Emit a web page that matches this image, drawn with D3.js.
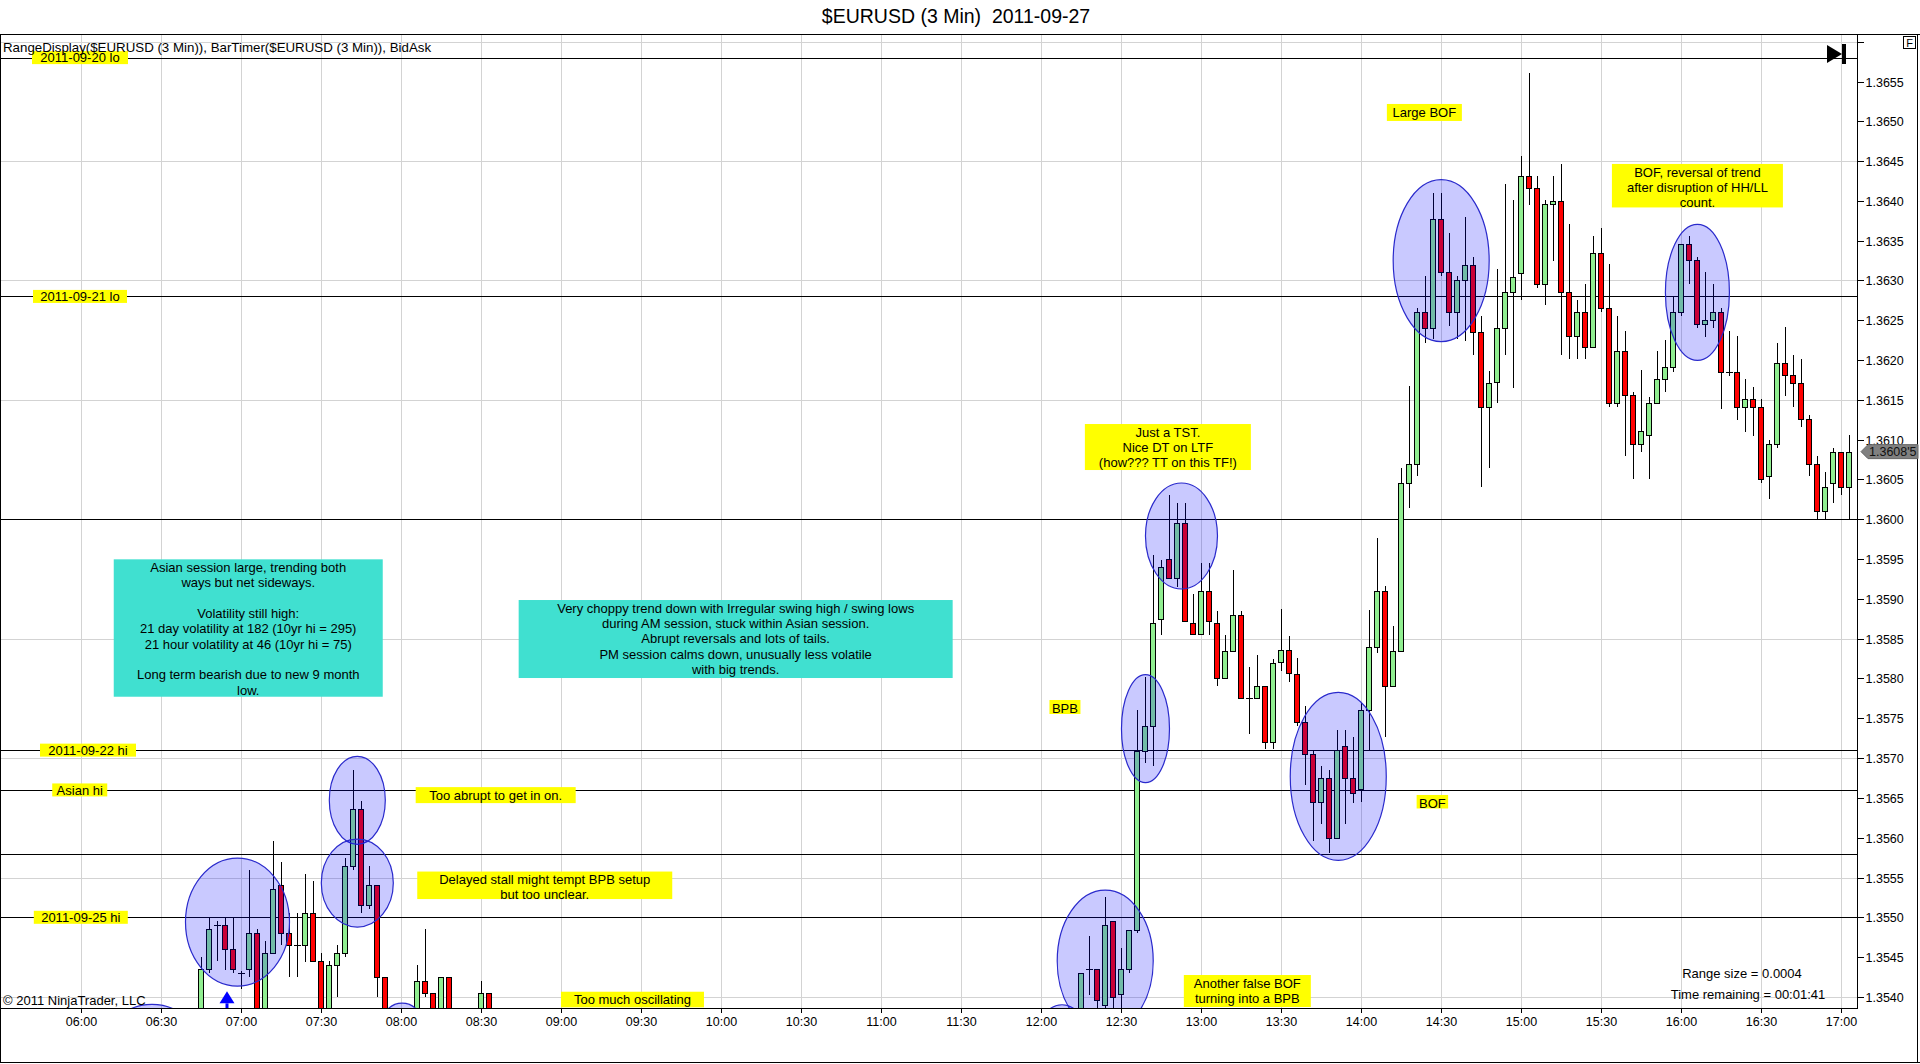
<!DOCTYPE html>
<html><head><meta charset="utf-8">
<script src="https://cdn.jsdelivr.net/npm/d3@7"></script>
<style>
html,body{margin:0;padding:0;background:#fff;overflow:hidden}
svg{display:block;font-family:"Liberation Sans",Arial,sans-serif}
</style></head><body>
<svg id="chart" width="1920" height="1064"></svg>
<script>
// ---------------- DATA ----------------
const titleText = "$EURUSD (3 Min)  2011-09-27";
const headerText = "RangeDisplay($EURUSD (3 Min)), BarTimer($EURUSD (3 Min)), BidAsk";

const barTimes = [
 "06:45","06:48","06:51","06:54","06:57","07:00","07:03","07:06","07:09","07:12","07:15","07:18","07:21","07:24","07:27",
 "07:30","07:33","07:36","07:39","07:42","07:45","07:48","07:51","07:54","08:06","08:09","08:12","08:15","08:18","08:30","08:33",
 "12:15","12:18","12:21","12:24","12:27","12:30","12:33","12:36","12:39","12:42","12:45","12:48","12:51","12:54","12:57",
 "13:00","13:03","13:06","13:09","13:12","13:15","13:18","13:21","13:24","13:27","13:30","13:33","13:36","13:39","13:42","13:45","13:48","13:51","13:54","13:57",
 "14:00","14:03","14:06","14:09","14:12","14:15","14:18","14:21","14:24","14:27","14:30","14:33","14:36","14:39","14:42","14:45","14:48","14:51","14:54","14:57",
 "15:00","15:03","15:06","15:09","15:12","15:15","15:18","15:21","15:24","15:27","15:30","15:33","15:36","15:39","15:42","15:45","15:48","15:51","15:54","15:57",
 "16:00","16:03","16:06","16:09","16:12","16:15","16:18","16:21","16:24","16:27","16:30","16:33","16:36","16:39","16:42","16:45","16:48","16:51","16:54","16:57",
 "17:00","17:03"];

const opens = [
 1.3533,1.35435,1.3549,1.3549,1.3546,1.3543,1.35435,1.3548,1.3535,1.35455,1.3554,1.3548,1.35465,1.35465,1.35505,
 1.35445,1.3536,1.3544,1.35455,1.35565,1.35636,1.35515,1.3554,1.35425,1.3535,1.3542,1.35405,1.3535,1.35425,1.3536,1.35405,
 1.3535,1.35435,1.35435,1.3539,1.35495,1.35404,1.35435,1.35484,1.35709,1.3574,1.35875,1.3595,1.35926,1.35995,1.3587,
 1.35856,1.3591,1.3587,1.3580,1.35835,1.3588,1.35775,1.35775,1.3579,1.3572,1.35821,1.35836,1.35806,1.35745,1.35705,1.35645,1.35675,1.3560,1.35715,1.35675,
 1.35661,1.35761,1.3584,1.3591,1.3579,1.35835,1.36045,1.3607,1.3626,1.3624,1.36377,1.36311,1.36261,1.3630,1.36319,1.36235,1.36141,1.36172,1.3624,1.36285,
 1.3631,1.36431,1.36416,1.36295,1.36396,1.364,1.36285,1.3623,1.3626,1.36216,1.36335,1.36265,1.36146,1.36211,1.36156,1.36095,1.36106,1.36146,1.36176,1.36191,
 1.3626,1.36346,1.36326,1.36245,1.3625,1.3626,1.36185,1.36185,1.36141,1.36151,1.36141,1.36055,1.36095,1.36196,1.36181,1.36171,1.36126,1.3607,1.3601,1.36045,
 1.36085,1.3604];

const highs = [
 1.3545,1.3550,1.35495,1.3550,1.3550,1.35432,1.3556,1.35485,1.3547,1.35596,1.3557,1.35505,1.35505,1.35555,1.35545,
 1.35455,1.35445,1.35465,1.35575,1.35685,1.35646,1.35565,1.3554,1.35425,1.3544,1.35485,1.35405,1.35425,1.35425,1.3542,1.35405,
 1.3543,1.35476,1.35435,1.35526,1.35495,1.35461,1.35484,1.3576,1.35802,1.35955,1.35949,1.36031,1.3602,1.3602,1.35906,
 1.35945,1.35945,1.35885,1.35855,1.35936,1.35885,1.35815,1.3583,1.3579,1.35825,1.35887,1.35854,1.35826,1.35766,1.3571,1.3569,1.35685,1.35735,1.35735,1.35726,
 1.35769,1.35886,1.35976,1.35916,1.35866,1.36065,1.36167,1.36265,1.36306,1.3641,1.3641,1.3636,1.36306,1.3638,1.3633,1.36255,1.36186,1.36315,1.36421,1.36401,
 1.36456,1.36561,1.36431,1.36401,1.36431,1.36446,1.36371,1.36275,1.36296,1.36356,1.36366,1.36321,1.36255,1.36236,1.3616,1.36187,1.36154,1.36211,1.36225,1.3628,
 1.36346,1.36356,1.3633,1.36311,1.36296,1.36265,1.36236,1.3623,1.36176,1.36166,1.36151,1.361,1.36221,1.36241,1.36206,1.36201,1.36131,1.3608,1.3606,1.3609,
 1.36085,1.36106];

const lows = [
 1.3531,1.3543,1.35445,1.35434,1.3543,1.3541,1.35425,1.3532,1.3533,1.35455,1.35465,1.35425,1.35425,1.35444,1.35444,
 1.3533,1.3535,1.3540,1.3545,1.3556,1.35505,1.3551,1.3540,1.3532,1.3534,1.3540,1.3534,1.3534,1.3534,1.3535,1.3535,
 1.3534,1.35402,1.3538,1.3538,1.3537,1.3538,1.3543,1.3548,1.35694,1.3569,1.35855,1.35926,1.35915,1.35872,1.35856,
 1.35856,1.35855,1.3579,1.3580,1.35835,1.35775,1.3573,1.35775,1.35711,1.35711,1.3581,1.35796,1.3574,1.35666,1.35596,1.35617,1.35581,1.3560,1.35617,1.35644,
 1.35645,1.35709,1.35832,1.35726,1.3579,1.35835,1.36014,1.36055,1.36221,1.36227,1.36306,1.36243,1.36227,1.36224,1.36206,1.3604,1.36065,1.36146,1.36206,1.36165,
 1.36275,1.36395,1.3629,1.36269,1.36325,1.36206,1.36201,1.36201,1.36201,1.36216,1.3626,1.36141,1.36141,1.3608,1.3605,1.36085,1.3605,1.36146,1.3616,1.36185,
 1.36255,1.36295,1.3624,1.36229,1.3624,1.36139,1.3618,1.36125,1.3611,1.36105,1.36045,1.36025,1.3609,1.36155,1.36141,1.36116,1.36055,1.3600,1.3600,1.3602,
 1.3603,1.3600];

const closes = [
 1.35435,1.35485,1.3549,1.3546,1.35435,1.3543,1.3548,1.3534,1.35455,1.35535,1.3548,1.35465,1.35465,1.35505,1.35445,
 1.3535,1.3544,1.35455,1.35565,1.35636,1.35515,1.3554,1.35425,1.3534,1.3542,1.35405,1.3536,1.35425,1.3535,1.35405,1.3536,
 1.3543,1.35435,1.35396,1.3549,1.3540,1.35435,1.35484,1.35709,1.3574,1.3587,1.3594,1.35926,1.35995,1.35872,1.35856,
 1.3591,1.35872,1.3580,1.35835,1.3588,1.35775,1.35775,1.3579,1.3572,1.3582,1.35836,1.35807,1.35745,1.35705,1.35645,1.35675,1.3560,1.3571,1.35675,1.35656,
 1.35761,1.3584,1.3591,1.3579,1.35835,1.36045,1.3607,1.3626,1.3624,1.36377,1.36311,1.36261,1.3630,1.36319,1.36235,1.36141,1.36171,1.3624,1.36285,1.36305,
 1.36431,1.36416,1.36295,1.36396,1.364,1.36285,1.3623,1.3626,1.36216,1.36335,1.36265,1.36146,1.36211,1.36156,1.36095,1.36111,1.36146,1.36176,1.36191,1.3626,
 1.36346,1.36326,1.36245,1.3625,1.3626,1.36185,1.36185,1.36141,1.36151,1.36141,1.3605,1.36095,1.36196,1.36181,1.36171,1.36126,1.3607,1.3601,1.3604,1.36085,
 1.3604,1.36085];

const yTickValues = [1.3540,1.3545,1.3550,1.3555,1.3560,1.3565,1.3570,1.3575,1.3580,1.3585,1.3590,1.3595,
  1.3600,1.3605,1.3610,1.3615,1.3620,1.3625,1.3630,1.3635,1.3640,1.3645,1.3650,1.3655,1.3660];
const yTickLabels = ["1.3540","1.3545","1.3550","1.3555","1.3560","1.3565","1.3570","1.3575","1.3580","1.3585","1.3590","1.3595",
  "1.3600","1.3605","1.3610","1.3615","1.3620","1.3625","1.3630","1.3635","1.3640","1.3645","1.3650","1.3655",""];
const yGridValues = [1.3540,1.3555,1.3570,1.3585,1.3600,1.3615,1.3630,1.3645,1.3660];
const xTickLabels = ["06:00","06:30","07:00","07:30","08:00","08:30","09:00","09:30","10:00","10:30","11:00","11:30",
  "12:00","12:30","13:00","13:30","14:00","14:30","15:00","15:30","16:00","16:30","17:00"];

const levelPrices = [1.3658,1.3628,1.3600,1.3571,1.3566,1.3558,1.3550];
const levelLabels = ["2011-09-20 lo","2011-09-21 lo","","2011-09-22 hi","Asian hi","","2011-09-25 hi"];
const levelLabelTimes = ["05:59:42","05:59:42",null,"06:02:42","05:59:36",null,"06:00:00"];
const levelLabelWidths = [96,94,0,96,55,0,94];

const ellipseTimes  = ["06:58:46","07:43:42","07:43:42","06:26:42","08:00:30","12:08:00","12:24:12","12:39:18","12:52:48","13:51:36","14:30:12","16:06:18"];
const ellipsePrices = [1.35494,1.35647,1.35543,1.35353,1.35367,1.35365,1.35445,1.35737,1.35979,1.35677,1.36325,1.36285];
const ellipseRx = [52,28,36,40,20,20,48,24,36,48,48,32];
const ellipseRy = [64,44,44,30,20,20,71,54,53,84,81,68];

const yellowNotes = [
  {lines:["Too abrupt to get in on."], t:"08:35:36", p:1.356535, w:160, h:16},
  {lines:["Delayed stall might tempt BPB setup","but too unclear."], t:"08:54:00", p:1.355402, w:255, h:27.5},
  {lines:["Too much oscillating"], t:"09:26:54", p:1.353967, w:143, h:15.6},
  {lines:["BPB"], t:"12:09:06", p:1.357642, w:31, h:14},
  {lines:["Just a TST.","Nice DT on LTF","(how??? TT on this TF!)"], t:"12:47:42", p:1.360908, w:166, h:46},
  {lines:["Another false BOF","turning into a BPB"], t:"13:17:30", p:1.354074, w:127, h:32},
  {lines:["BOF"], t:"14:26:54", p:1.356452, w:31.5, h:13.5},
  {lines:["Large BOF"], t:"14:23:54", p:1.365111, w:75, h:17},
  {lines:["BOF, reversal of trend","after disruption of HH/LL","count."], t:"16:06:18", p:1.364191, w:171, h:43.5}
];
const tealNotes = [
  {lines:["Asian session large, trending both","ways but net sideways.","","Volatility still high:",
          "21 day volatility at 182 (10yr hi = 295)","21 hour volatility at 46 (10yr hi = 75)","",
          "Long term bearish due to new 9 month","low."], t:"07:02:48", p:1.358634, w:269, h:137.4},
  {lines:["Very choppy trend down with Irregular swing high / swing lows","during AM session, stuck within Asian session.",
          "Abrupt reversals and lots of tails.","PM session calms down, unusually less volatile","with big trends."],
   t:"10:05:36", p:1.358496, w:434, h:78}
];
const arrowTime = "06:54", arrowPrice = 1.35407;
const lastPriceLabel = "1.3608'5";
const infoLines = ["Range size = 0.0004","Time remaining = 00:01:41"];
const copyrightText = "\u00A9 2011 NinjaTrader, LLC";

// ---------------- CHART ----------------
const W = 1920, H = 1064;
const P = {left:0, top:34, right:1857, bottom:1008};
const parseHM = d3.timeParse("%H:%M"), parseHMS = d3.timeParse("%H:%M:%S");
const T = s => (s.length > 5 ? parseHMS(s) : parseHM(s));

const x = d3.scaleTime().domain([T("06:00"), T("17:00")]).range([80.8, 1840.6]);
const y = d3.scaleLinear().domain([1.3540, 1.3655]).range([996.9, 81.5]);

const svg = d3.select("#chart");
svg.append("rect").attr("width", W).attr("height", H).attr("fill", "#fff");
svg.append("defs").append("clipPath").attr("id", "clipPlot")
  .append("rect").attr("x", P.left).attr("y", P.top).attr("width", P.right - P.left).attr("height", P.bottom - P.top);

// title
svg.append("text").attr("x", 956).attr("y", 23).attr("text-anchor", "middle")
  .attr("font-size", 19.5).attr("fill", "#000").style("white-space", "pre").text(titleText);

const plot = svg.append("g").attr("clip-path", "url(#clipPlot)");
const crisp = s => s.attr("shape-rendering", "crispEdges");

// grid
const xTickValues = xTickLabels.map(T);
plot.append("g").selectAll("line").data(xTickValues).join("line")
  .attr("x1", d => Math.round(x(d)) + 0.5).attr("x2", d => Math.round(x(d)) + 0.5)
  .attr("y1", P.top).attr("y2", P.bottom).attr("stroke", "#d3d3d3").call(crisp);
plot.append("g").selectAll("line").data(yGridValues).join("line")
  .attr("x1", P.left).attr("x2", P.right)
  .attr("y1", d => Math.round(y(d)) + 0.5).attr("y2", d => Math.round(y(d)) + 0.5)
  .attr("stroke", "#d3d3d3").call(crisp);

// level lines
plot.append("g").selectAll("line").data(levelPrices).join("line")
  .attr("x1", P.left).attr("x2", P.right)
  .attr("y1", d => Math.round(y(d)) + 0.5).attr("y2", d => Math.round(y(d)) + 0.5)
  .attr("stroke", "#000").call(crisp);

// candles
const bars = barTimes.map((t, i) => ({t: T(t), o: opens[i], h: highs[i], l: lows[i], c: closes[i]}));
const cg = plot.append("g");
cg.selectAll("line.wick").data(bars).join("line").attr("class", "wick")
  .attr("x1", d => Math.round(x(d.t)) + 0.5).attr("x2", d => Math.round(x(d.t)) + 0.5)
  .attr("y1", d => Math.round(y(d.h))).attr("y2", d => Math.round(y(d.l)))
  .attr("stroke", "#000").call(crisp);
const isDoji = d => Math.abs(d.o - d.c) < 0.00002;
cg.selectAll("rect.body").data(bars.filter(d => !isDoji(d))).join("rect").attr("class", "body")
  .attr("x", d => Math.round(x(d.t)) - 2.5)
  .attr("y", d => Math.round(y(Math.max(d.o, d.c))) + 0.5)
  .attr("width", 5)
  .attr("height", d => Math.max(1, Math.round(y(Math.min(d.o, d.c))) - Math.round(y(Math.max(d.o, d.c)))))
  .attr("fill", d => d.c >= d.o ? "#90ee90" : "#ff0000")
  .attr("stroke", "#000").call(crisp);
cg.selectAll("line.doji").data(bars.filter(isDoji)).join("line").attr("class", "doji")
  .attr("x1", d => Math.round(x(d.t)) - 3).attr("x2", d => Math.round(x(d.t)) + 4)
  .attr("y1", d => Math.round(y(d.c)) + 0.5).attr("y2", d => Math.round(y(d.c)) + 0.5)
  .attr("stroke", "#000").call(crisp);

// ellipses
plot.append("g").selectAll("ellipse").data(ellipseTimes).join("ellipse")
  .attr("cx", (d, i) => x(T(d))).attr("cy", (d, i) => y(ellipsePrices[i]))
  .attr("rx", (d, i) => ellipseRx[i]).attr("ry", (d, i) => ellipseRy[i])
  .attr("fill", "#0000ff").attr("fill-opacity", 0.21)
  .attr("stroke", "#2a2acc").attr("stroke-width", 1.2);

// level labels
const lvl = levelPrices.map((p, i) => ({p, label: levelLabels[i], t: levelLabelTimes[i], w: levelLabelWidths[i]})).filter(d => d.label);
const lg = plot.append("g");
lg.selectAll("rect").data(lvl).join("rect")
  .attr("x", d => x(T(d.t)) - d.w / 2).attr("y", d => y(d.p) - 6.5)
  .attr("width", d => d.w).attr("height", 13).attr("fill", "#ffff00");
lg.selectAll("text").data(lvl).join("text")
  .attr("x", d => x(T(d.t))).attr("y", d => y(d.p) + 4.6).attr("text-anchor", "middle")
  .attr("font-size", 13).attr("fill", "#000").text(d => d.label);

// note boxes
function drawNote(g, n, fill, lh) {
  const cx = x(T(n.t)), cy = y(n.p);
  const top = cy - n.h / 2;
  g.append("rect").attr("x", cx - n.w / 2).attr("y", top).attr("width", n.w).attr("height", n.h).attr("fill", fill);
  n.lines.forEach((ln, i) => {
    if (!ln) return;
    g.append("text").attr("x", cx).attr("y", top + 8 + i * lh + 4.6)
      .attr("text-anchor", "middle").attr("font-size", 13).attr("fill", "#000").text(ln);
  });
}
const ng = plot.append("g");
yellowNotes.forEach(n => drawNote(ng, n, "#ffff00", 15));
tealNotes.forEach(n => drawNote(ng, n, "#40e0d0", 15.33));

// arrow (blue up)
{
  const ax = Math.round(x(T(arrowTime))) + 2, ay = y(arrowPrice);
  plot.append("path")
    .attr("d", `M${ax},${ay} L${ax + 7.5},${ay + 12} L${ax - 7.5},${ay + 12} Z`).attr("fill", "#0000ff");
  plot.append("rect").attr("x", ax - 1.5).attr("y", ay + 12).attr("width", 3).attr("height", P.bottom - ay - 12).attr("fill", "#0000ff");
}

// header text & corner text
svg.append("text").attr("x", 3).attr("y", 52).attr("font-size", 13.3).attr("fill", "#000").text(headerText);
svg.append("text").attr("x", 3).attr("y", 1004.5).attr("font-size", 13).attr("fill", "#000").text(copyrightText);
svg.append("text").attr("x", 1742).attr("y", 978).attr("text-anchor", "middle").attr("font-size", 13).attr("fill", "#000").text(infoLines[0]);
svg.append("text").attr("x", 1748).attr("y", 998.6).attr("text-anchor", "middle").attr("font-size", 13).attr("fill", "#000").text(infoLines[1]);

// play-to-end icon
svg.append("path").attr("d", "M1827,45 L1842,54 L1827,63 Z").attr("fill", "#000");
svg.append("rect").attr("x", 1842).attr("y", 44).attr("width", 4).attr("height", 20).attr("fill", "#000");

// axes
const yAxis = d3.axisRight(y).tickValues(yTickValues).tickSize(6).tickSizeOuter(0).tickPadding(2)
  .tickFormat((d, i) => yTickLabels[i]);
const ya = svg.append("g").attr("transform", `translate(${P.right + 0.5},0)`).call(yAxis);
ya.select(".domain").remove();
ya.selectAll(".tick line").attr("stroke", "#000").call(crisp);
ya.selectAll(".tick").attr("transform", d => `translate(0,${Math.round(y(d)) + 0.5})`);
ya.selectAll("text").attr("font-size", 12.5).attr("font-family", "'Liberation Sans',Arial,sans-serif").attr("fill", "#000");

const xAxis = d3.axisBottom(x).tickValues(xTickValues).tickSize(4).tickSizeOuter(0).tickPadding(5)
  .tickFormat((d, i) => xTickLabels[i]);
const xa = svg.append("g").attr("transform", `translate(0,${P.bottom + 0.5})`).call(xAxis);
xa.select(".domain").remove();
xa.selectAll(".tick line").attr("stroke", "#000").call(crisp);
xa.selectAll(".tick").attr("transform", d => `translate(${Math.round(x(d)) + 0.5},0)`);
xa.selectAll("text").attr("font-size", 12.5).attr("font-family", "'Liberation Sans',Arial,sans-serif").attr("fill", "#000");

// frame lines
const frame = [
  [0, P.top + 0.5, W, P.top + 0.5],
  [0.5, P.top, 0.5, H - 1],
  [W - 2.5, P.top, W - 2.5, H - 1],
  [0, H - 1.5, W, H - 1.5],
  [P.right + 0.5, P.top, P.right + 0.5, P.bottom + 0.5],
  [0, P.bottom + 0.5, P.right + 0.5, P.bottom + 0.5]
];
svg.append("g").selectAll("line").data(frame).join("line")
  .attr("x1", d => d[0]).attr("y1", d => d[1]).attr("x2", d => d[2]).attr("y2", d => d[3])
  .attr("stroke", "#000").call(crisp);

// "F" box
svg.append("rect").attr("x", 1903.5).attr("y", 36.5).attr("width", 12).attr("height", 12)
  .attr("fill", "#fff").attr("stroke", "#000").call(crisp);
svg.append("text").attr("x", 1909.5).attr("y", 46.5).attr("text-anchor", "middle").attr("font-size", 11).text("F");

// last price marker
{
  const lp = closes[closes.length - 1];
  const my = y(lp);
  svg.append("path")
    .attr("d", `M${P.right + 4},${my} L${P.right + 11},${my - 7} L${W - 2},${my - 7} L${W - 2},${my + 7} L${P.right + 11},${my + 7} Z`)
    .attr("fill", "#808080").attr("stroke", "#666");
  svg.append("text").attr("x", P.right + 12).attr("y", my + 4.5).attr("font-size", 12.5).attr("fill", "#111").text(lastPriceLabel);
}
</script>
</body></html>
